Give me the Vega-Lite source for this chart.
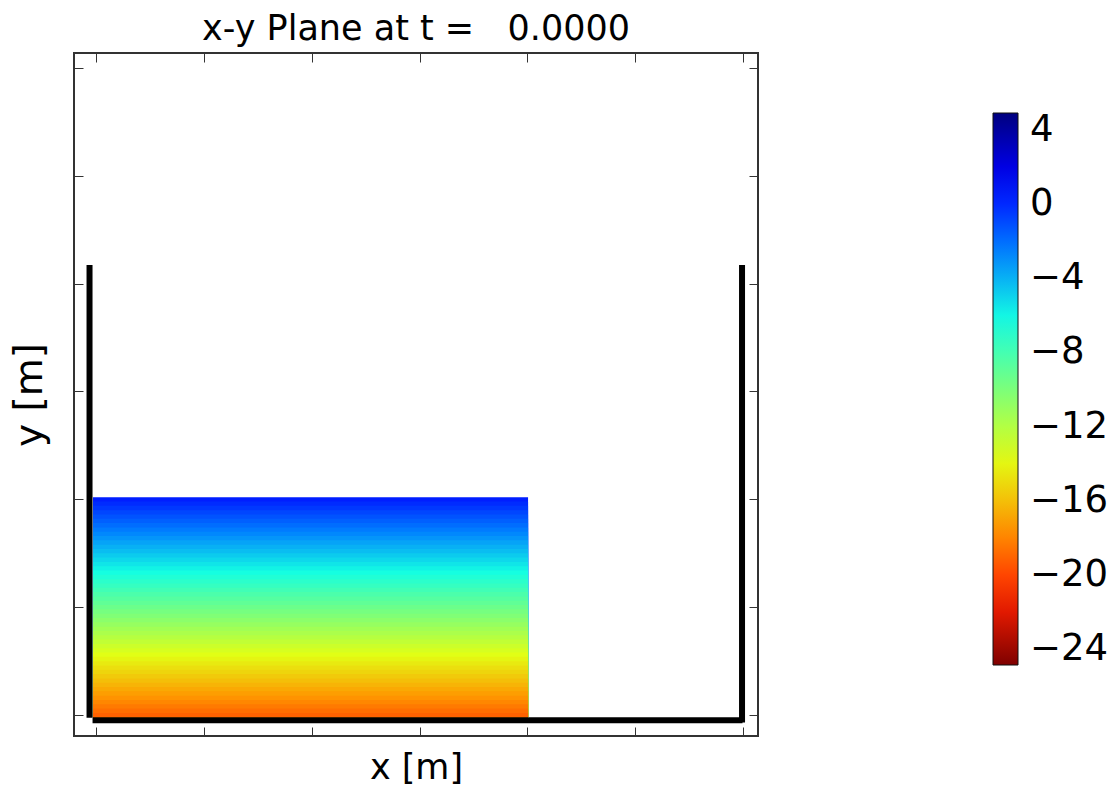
{
  "$schema": "https://vega.github.io/schema/vega-lite/v6.json",
  "width": 684,
  "height": 683,
  "autosize": {"type": "none"},
  "padding": {"left": 74, "top": 53, "right": 358, "bottom": 56},
  "background": "white",
  "title": {
    "text": "x-y Plane at t =\u00a0\u00a0\u00a00.0000",
    "font": "DejaVu Sans",
    "fontSize": 35,
    "fontWeight": "normal",
    "color": "black",
    "anchor": "middle",
    "offset": 6
  },
  "config": {
    "view": {"stroke": "#333333", "strokeWidth": 2},
    "axis": {
      "labels": false,
      "grid": false,
      "domain": false,
      "ticks": true,
      "tickSize": -9,
      "tickWidth": 1,
      "tickColor": "#333333",
      "titleFont": "DejaVu Sans",
      "titleFontWeight": "normal",
      "titleColor": "black"
    }
  },
  "layer": [
    {
      "data": {
        "values": [
          {"x0": -0.014, "x1": 2.003, "ylo": -0.01, "yhi": 1.01, "p": 0.31},
          {"x0": -0.014, "x1": 2.003, "ylo": -0.01, "yhi": 0.99, "p": -0.08},
          {"x0": -0.014, "x1": 2.003, "ylo": -0.01, "yhi": 0.97, "p": -0.47},
          {"x0": -0.014, "x1": 2.003, "ylo": -0.01, "yhi": 0.95, "p": -0.86},
          {"x0": -0.014, "x1": 2.003, "ylo": -0.01, "yhi": 0.93, "p": -1.25},
          {"x0": -0.014, "x1": 2.003, "ylo": -0.01, "yhi": 0.91, "p": -1.63},
          {"x0": -0.014, "x1": 2.003, "ylo": -0.01, "yhi": 0.89, "p": -2.02},
          {"x0": -0.014, "x1": 2.003, "ylo": -0.01, "yhi": 0.87, "p": -2.41},
          {"x0": -0.014, "x1": 2.003, "ylo": -0.01, "yhi": 0.85, "p": -2.80},
          {"x0": -0.014, "x1": 2.003, "ylo": -0.01, "yhi": 0.83, "p": -3.19},
          {"x0": -0.014, "x1": 2.003, "ylo": -0.01, "yhi": 0.81, "p": -3.57},
          {"x0": -0.014, "x1": 2.003, "ylo": -0.01, "yhi": 0.79, "p": -3.96},
          {"x0": -0.014, "x1": 2.003, "ylo": -0.01, "yhi": 0.77, "p": -4.35},
          {"x0": -0.014, "x1": 2.003, "ylo": -0.01, "yhi": 0.75, "p": -4.74},
          {"x0": -0.014, "x1": 2.003, "ylo": -0.01, "yhi": 0.73, "p": -5.13},
          {"x0": -0.014, "x1": 2.003, "ylo": -0.01, "yhi": 0.71, "p": -5.51},
          {"x0": -0.014, "x1": 2.003, "ylo": -0.01, "yhi": 0.69, "p": -5.90},
          {"x0": -0.014, "x1": 2.003, "ylo": -0.01, "yhi": 0.67, "p": -6.29},
          {"x0": -0.014, "x1": 2.003, "ylo": -0.01, "yhi": 0.65, "p": -6.68},
          {"x0": -0.014, "x1": 2.003, "ylo": -0.01, "yhi": 0.63, "p": -7.07},
          {"x0": -0.014, "x1": 2.003, "ylo": -0.01, "yhi": 0.61, "p": -7.45},
          {"x0": -0.014, "x1": 2.003, "ylo": -0.01, "yhi": 0.59, "p": -7.84},
          {"x0": -0.014, "x1": 2.003, "ylo": -0.01, "yhi": 0.57, "p": -8.23},
          {"x0": -0.014, "x1": 2.003, "ylo": -0.01, "yhi": 0.55, "p": -8.62},
          {"x0": -0.014, "x1": 2.003, "ylo": -0.01, "yhi": 0.53, "p": -9.01},
          {"x0": -0.014, "x1": 2.003, "ylo": -0.01, "yhi": 0.51, "p": -9.39},
          {"x0": -0.014, "x1": 2.003, "ylo": -0.01, "yhi": 0.49, "p": -9.78},
          {"x0": -0.014, "x1": 2.003, "ylo": -0.01, "yhi": 0.47, "p": -10.17},
          {"x0": -0.014, "x1": 2.003, "ylo": -0.01, "yhi": 0.45, "p": -10.56},
          {"x0": -0.014, "x1": 2.003, "ylo": -0.01, "yhi": 0.43, "p": -10.95},
          {"x0": -0.014, "x1": 2.003, "ylo": -0.01, "yhi": 0.41, "p": -11.33},
          {"x0": -0.014, "x1": 2.003, "ylo": -0.01, "yhi": 0.39, "p": -11.72},
          {"x0": -0.014, "x1": 2.003, "ylo": -0.01, "yhi": 0.37, "p": -12.11},
          {"x0": -0.014, "x1": 2.003, "ylo": -0.01, "yhi": 0.35, "p": -12.50},
          {"x0": -0.014, "x1": 2.003, "ylo": -0.01, "yhi": 0.33, "p": -12.89},
          {"x0": -0.014, "x1": 2.003, "ylo": -0.01, "yhi": 0.31, "p": -13.27},
          {"x0": -0.014, "x1": 2.003, "ylo": -0.01, "yhi": 0.29, "p": -13.66},
          {"x0": -0.014, "x1": 2.003, "ylo": -0.01, "yhi": 0.27, "p": -14.05},
          {"x0": -0.014, "x1": 2.003, "ylo": -0.01, "yhi": 0.25, "p": -14.44},
          {"x0": -0.014, "x1": 2.003, "ylo": -0.01, "yhi": 0.23, "p": -14.83},
          {"x0": -0.014, "x1": 2.003, "ylo": -0.01, "yhi": 0.21, "p": -15.21},
          {"x0": -0.014, "x1": 2.003, "ylo": -0.01, "yhi": 0.19, "p": -15.60},
          {"x0": -0.014, "x1": 2.003, "ylo": -0.01, "yhi": 0.17, "p": -15.99},
          {"x0": -0.014, "x1": 2.003, "ylo": -0.01, "yhi": 0.15, "p": -16.38},
          {"x0": -0.014, "x1": 2.003, "ylo": -0.01, "yhi": 0.13, "p": -16.77},
          {"x0": -0.014, "x1": 2.003, "ylo": -0.01, "yhi": 0.11, "p": -17.15},
          {"x0": -0.014, "x1": 2.003, "ylo": -0.01, "yhi": 0.09, "p": -17.54},
          {"x0": -0.014, "x1": 2.003, "ylo": -0.01, "yhi": 0.07, "p": -17.93},
          {"x0": -0.014, "x1": 2.003, "ylo": -0.01, "yhi": 0.05, "p": -18.32},
          {"x0": -0.014, "x1": 2.003, "ylo": -0.01, "yhi": 0.03, "p": -18.71},
          {"x0": -0.014, "x1": 2.003, "ylo": -0.01, "yhi": 0.01, "p": -19.09}
        ]
      },
      "mark": {"type": "rect", "strokeWidth": 0},
      "encoding": {
        "x": {
          "field": "x0",
          "type": "quantitative",
          "scale": {"domain": [-0.102, 3.069], "nice": false, "zero": false},
          "axis": {
            "orient": "bottom",
            "title": "x [m]",
            "titleFontSize": 35,
            "titlePadding": 14,
            "values": [0, 0.5, 1, 1.5, 2, 2.5, 3]
          }
        },
        "x2": {"field": "x1"},
        "y": {
          "field": "ylo",
          "type": "quantitative",
          "scale": {"domain": [-0.097, 3.069], "nice": false, "zero": false},
          "axis": {
            "orient": "left",
            "title": "y [m]",
            "titleFontSize": 39,
            "titlePadding": 24,
            "values": [0, 0.5, 1, 1.5, 2, 2.5, 3]
          }
        },
        "y2": {"field": "yhi"},
        "color": {
          "field": "p",
          "type": "quantitative",
          "scale": {
            "domain": [-24.85, 4.9],
            "nice": false,
            "zero": false,
            "interpolate": "rgb",
            "range": ["#7f0000", "#ff2100", "#ff9700", "#e2ff14", "#7bff7b", "#14ffe2", "#007fff", "#0000ff", "#00007f"]
          },
          "legend": {
            "orient": "none",
            "legendX": 919,
            "legendY": 60,
            "padding": 0,
            "title": null,
            "direction": "vertical",
            "gradientLength": 552,
            "gradientThickness": 25,
            "gradientStrokeColor": "#111111",
            "gradientStrokeWidth": 1,
            "values": [4, 0, -4, -8, -12, -16, -20, -24],
            "labelExpr": "replace(datum.label, '-', '\u2212')",
            "labelFont": "DejaVu Sans",
            "labelFontSize": 37,
            "labelColor": "black",
            "labelOffset": 12,
            "labelOverlap": false
          }
        }
      }
    },
    {
      "data": {
        "values": [
          {"wall": "left", "xa": -0.03, "xb": -0.03, "ya": 2.086, "yb": -0.012},
          {"wall": "bottom", "xa": -0.016, "xb": 2.997, "ya": -0.024, "yb": -0.024},
          {"wall": "right", "xa": 2.995, "xb": 2.995, "ya": 2.086, "yb": -0.035}
        ]
      },
      "mark": {"type": "rule", "color": "black", "strokeWidth": 6, "strokeCap": "butt"},
      "encoding": {
        "x": {
          "field": "xa",
          "type": "quantitative",
          "scale": {"domain": [-0.102, 3.069], "nice": false, "zero": false},
          "axis": {"orient": "top", "title": null, "values": [0, 0.5, 1, 1.5, 2, 2.5, 3]}
        },
        "x2": {"field": "xb"},
        "y": {
          "field": "ya",
          "type": "quantitative",
          "scale": {"domain": [-0.097, 3.069], "nice": false, "zero": false},
          "axis": {"orient": "right", "title": null, "values": [0, 0.5, 1, 1.5, 2, 2.5, 3]}
        },
        "y2": {"field": "yb"}
      }
    }
  ],
  "resolve": {"axis": {"x": "independent", "y": "independent"}}
}
